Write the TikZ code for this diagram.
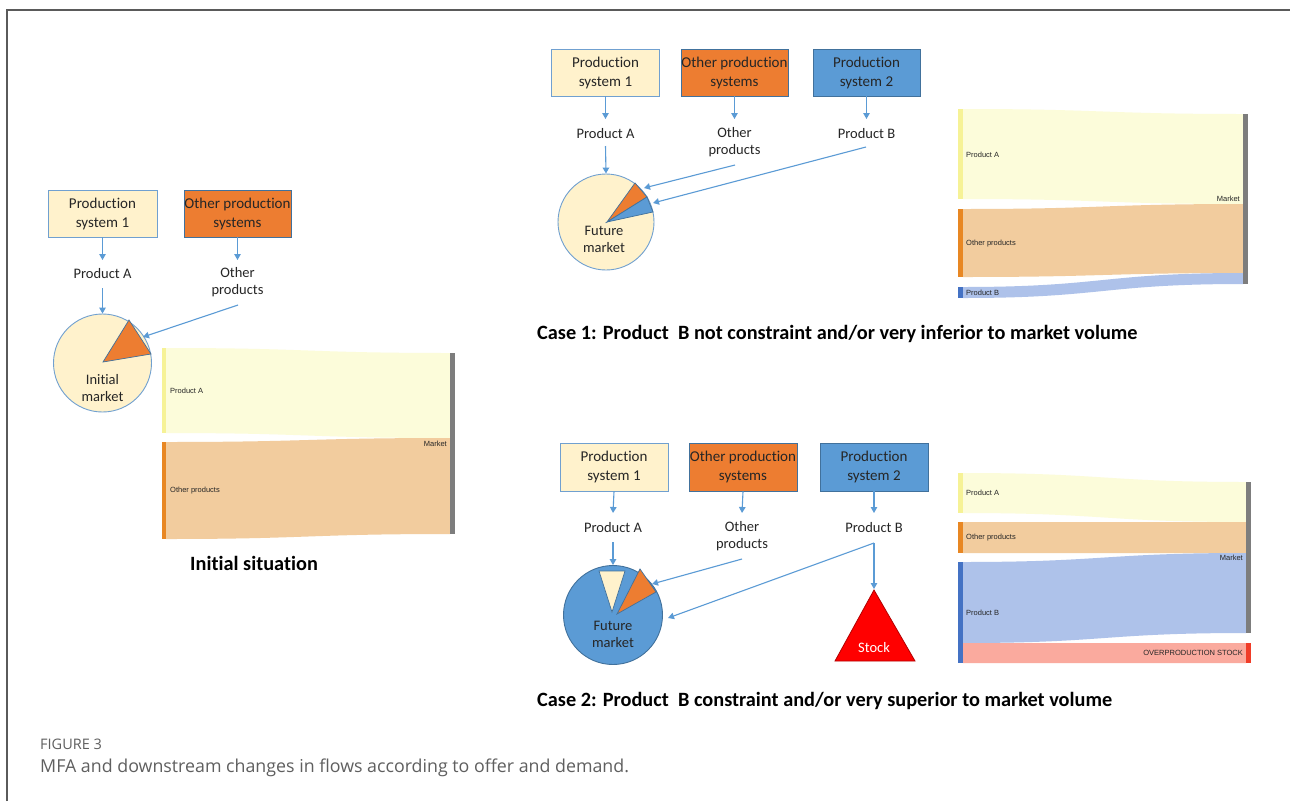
\documentclass[tikz,border=0pt]{standalone}
\usepackage{fontspec}
\setmainfont{Carlito}[Ligatures=NoCommon]
\newfontfamily\snkfont{Liberation Sans}
\newfontfamily\capfont{Open Sans}
\usetikzlibrary{arrows.meta}
\definecolor{creamF}{RGB}{255,242,204}
\definecolor{boxEdge}{RGB}{112,160,208}
\definecolor{orangeF}{RGB}{237,125,49}
\definecolor{blueF}{RGB}{91,155,213}
\definecolor{darkEdge}{RGB}{65,113,156}
\definecolor{arrowC}{RGB}{91,155,213}
\definecolor{sAflow}{RGB}{252,252,218}
\definecolor{sAbar}{RGB}{246,242,150}
\definecolor{sOflow}{RGB}{242,204,158}
\definecolor{sObar}{RGB}{232,135,35}
\definecolor{sBflow}{RGB}{174,194,234}
\definecolor{sBbar}{RGB}{68,114,196}
\definecolor{sRflow}{RGB}{250,170,158}
\definecolor{sRbar}{RGB}{240,60,40}
\definecolor{mktbar}{RGB}{125,125,125}
\definecolor{txt}{RGB}{38,38,38}
\definecolor{capgray}{RGB}{95,95,95}
\definecolor{stockred}{RGB}{255,0,0}
\definecolor{framegray}{RGB}{90,90,90}
\newcommand\flowband[7]{%
  \fill[#7] (#1,#3) .. controls ({(#1+#2)/2},#3) and ({(#1+#2)/2},#5) .. (#2,#5)
    -- (#2,#6) .. controls ({(#1+#2)/2},#6) and ({(#1+#2)/2},#4) .. (#1,#4) -- cycle;}
\begin{document}
\begin{tikzpicture}[x=1pt,y=-1pt,
  arr/.style={draw=arrowC, line width=1.1, -{Triangle[width=6.5pt,length=6pt]}},
  pbox/.style={draw, line width=0.9, minimum height=47, inner sep=0, align=center,
    font=\fontsize{15}{19}\selectfont, text=txt},
  lbl/.style={inner sep=0, align=center, font=\fontsize{14.5}{17}\selectfont, text=txt},
  snk/.style={font=\snkfont\fontsize{7.5}{8}\selectfont, inner sep=0, text=black!85},
  ttl/.style={font=\bfseries\fontsize{20.3}{22}\selectfont, inner sep=0, text=black, anchor=west},
  pie/.style={circle, inner sep=0, line width=0.9},
  wedge/.style={draw=darkEdge, line width=0.7}
]
\useasboundingbox (0,0) rectangle (1290,801);
\fill[white] (0,0) rectangle (1290,801);
\draw[framegray, line width=1.3] (7,801) -- (7,10) -- (1290,10);

% ================= Initial situation =================
\node[pbox, draw=boxEdge, fill=creamF, minimum width=109] (L1) at (102.5,213.5) {Production\\system 1};
\node[pbox, draw=darkEdge, fill=orangeF, minimum width=107] (L2) at (237.5,213.5) {\makebox[0pt]{Other production}\\systems};
\node[lbl] (LpA) at (102.5,274) {Product A};
\node[lbl] (LpO) at (237.5,282.5) {Other\\products};
\node[pie, draw=boxEdge, fill=creamF, minimum size=98] (m0) at (102.5,363) {};
\filldraw[fill=orangeF, wedge] (103,362) -- (129,320) -- (151,354) -- cycle;
\node[lbl] (m0t) at (102.5,388) {Initial\\market};
\coordinate (L1a) at (102.5,260);
\coordinate (L2a) at (237.5,260);
\coordinate (LpAb) at (102.5,288);
\coordinate (LpOb) at (238,305);
\coordinate (m0w) at (143,337);
\draw[arr] (L1.south) -- (L1a);
\draw[arr] (L2.south) -- (L2a);
\draw[arr] (LpAb) -- (m0.north);
\draw[arr] (LpOb) -- (m0w);
% sankey
\flowband{166}{450}{348}{433}{353}{438}{sAflow}
\flowband{166}{450}{442}{539}{438}{534}{sOflow}
\fill[sAbar] (162,348) rectangle (166,433);
\fill[sObar] (162,442) rectangle (166,539);
\fill[mktbar] (450,353) rectangle (455,534);
\node[snk, anchor=west] (s0a) at (170,391) {Product A};
\node[snk, anchor=west] (s0o) at (170,491) {Other products};
\node[snk, anchor=east] (s0m) at (447,444) {Market};
\node[ttl] (t0) at (190,563) {Initial situation};

% ================= Case 1 =================
\node[pbox, draw=boxEdge, fill=creamF, minimum width=108] (A1) at (605.5,72.5) {Production\\system 1};
\node[pbox, draw=darkEdge, fill=orangeF, minimum width=107] (A2) at (734.5,72.5) {\makebox[0pt]{Other production}\\systems};
\node[pbox, draw=darkEdge, fill=blueF, minimum width=107] (A3) at (866.5,72.5) {Production\\system 2};
\node[lbl] (ApA) at (605.5,134) {Product A};
\node[lbl] (ApO) at (734.5,142.5) {Other\\products};
\node[lbl] (ApB) at (866.5,134) {Product B};
\node[pie, draw=boxEdge, fill=creamF, minimum size=96] (m1) at (606,222) {};
\filldraw[fill=orangeF, wedge] (607,222) -- (635,183) -- (647,197) -- cycle;
\filldraw[fill=blueF, wedge] (607,222) -- (647,197) -- (653,212) -- cycle;
\node[lbl] (m1t) at (604,239) {Future\\market};
\coordinate (A1a) at (605.5,119);
\coordinate (A2a) at (734.5,119);
\coordinate (A3a) at (866.5,119);
\coordinate (ApAb) at (605.5,146);
\coordinate (ApOb) at (735,165);
\coordinate (ApBb) at (866,147);
\coordinate (m1o) at (644,188);
\coordinate (m1b) at (653,203);
\draw[arr] (A1.south) -- (A1a);
\draw[arr] (A2.south) -- (A2a);
\draw[arr] (A3.south) -- (A3a);
\draw[arr] (ApAb) -- (m1.north);
\draw[arr] (ApOb) -- (m1o);
\draw[arr] (ApBb) -- (m1b);
% sankey
\flowband{963}{1243}{109}{199}{114}{204}{sAflow}
\flowband{963}{1243}{209}{277}{204}{273}{sOflow}
\flowband{963}{1243}{287}{298}{273}{284}{sBflow}
\fill[sAbar] (958,109) rectangle (963,199);
\fill[sObar] (958,209) rectangle (963,277);
\fill[sBbar] (958,287) rectangle (963,298);
\fill[mktbar] (1243,114) rectangle (1248,284);
\node[snk, anchor=west] (s1a) at (966,155) {Product A};
\node[snk, anchor=west] (s1o) at (966,244) {Other products};
\node[snk, anchor=west] (s1b) at (966,293) {Product B};
\node[snk, anchor=east] (s1m) at (1240,199) {Market};
\node[ttl] (t1) at (537,334) {Case 1: Product\ \ B not constraint and/or very inferior to market volume};

% ================= Case 2 =================
\node[pbox, draw=boxEdge, fill=creamF, minimum width=108, minimum height=48] (B1) at (614,467) {Production\\system 1};
\node[pbox, draw=darkEdge, fill=orangeF, minimum width=108, minimum height=48] (B2) at (743,467) {\makebox[0pt]{Other production}\\systems};
\node[pbox, draw=darkEdge, fill=blueF, minimum width=108, minimum height=48] (B3) at (874,467) {Production\\system 2};
\node[lbl] (BpA) at (613,528) {Product A};
\node[lbl] (BpO) at (742,536.5) {Other\\products};
\node[lbl] (BpB) at (874,528) {Product B};
\node[pie, draw=darkEdge, fill=blueF, minimum size=99] (m2) at (613,615) {};
\filldraw[fill=creamF, wedge] (599,571) -- (625,571) -- (612,612) -- cycle;
\filldraw[fill=orangeF, wedge] (617,614) -- (640,569) -- (656,592) -- cycle;
\node[lbl] (m2t) at (613,634) {Future\\market};
\fill[stockred, draw=stockred!70!black, line width=0.8] (874,590) -- (915,661) -- (835,661) -- cycle;
\node[inner sep=0, text=white, font=\fontsize{14.5}{17}\selectfont] (stk) at (874,648) {Stock};
\coordinate (B1a) at (613,513);
\coordinate (B2a) at (742,513);
\coordinate (B3a) at (874,513);
\coordinate (BpAb) at (613,542);
\coordinate (BpOb) at (742,559);
\coordinate (BpBb) at (874,543);
\coordinate (m2o) at (652,584);
\coordinate (m2b) at (668,618);
\coordinate (stkTop) at (874,589);
\draw[arr] (B1.south) -- (B1a);
\draw[arr] (B2.south) -- (B2a);
\draw[arr] (B3.south) -- (B3a);
\draw[arr] (BpAb) -- (m2.north);
\draw[arr] (BpOb) -- (m2o);
\draw[arr] (BpBb) -- (m2b);
\draw[arr] (BpBb) -- (stkTop);
% sankey
\flowband{963}{1246}{473}{513}{482}{522}{sAflow}
\flowband{963}{1246}{522}{553}{522}{553}{sOflow}
\flowband{963}{1246}{562}{643}{553}{633}{sBflow}
\flowband{963}{1246}{643}{663}{643}{663}{sRflow}
\fill[sAbar] (958,473) rectangle (963,513);
\fill[sObar] (958,522) rectangle (963,553);
\fill[sBbar] (958,562) rectangle (963,663);
\fill[mktbar] (1246,482) rectangle (1251,633);
\fill[sRbar] (1246,643) rectangle (1251,663);
\node[snk, anchor=west] (s2a) at (966,493) {Product A};
\node[snk, anchor=west] (s2o) at (966,538) {Other products};
\node[snk, anchor=west] (s2b) at (966,613) {Product B};
\node[snk, anchor=east] (s2m) at (1243,558) {Market};
\node[snk, anchor=east] (s2s) at (1243,653) {OVERPRODUCTION STOCK};
\node[ttl] (t2) at (537,701) {Case 2: Product\ \ B constraint and/or very superior to market volume};

% ================= Caption =================
\node[inner sep=0, anchor=west, text=capgray, font=\capfont\fontsize{14.5}{17}\selectfont] (fig) at (40,744) {FIGURE 3};
\node[inner sep=0, anchor=west, text=capgray, font=\capfont\fontsize{17.8}{21}\selectfont] (cap) at (40,768) {MFA and downstream changes in flows according to offer and demand.};
\end{tikzpicture}
\end{document}
